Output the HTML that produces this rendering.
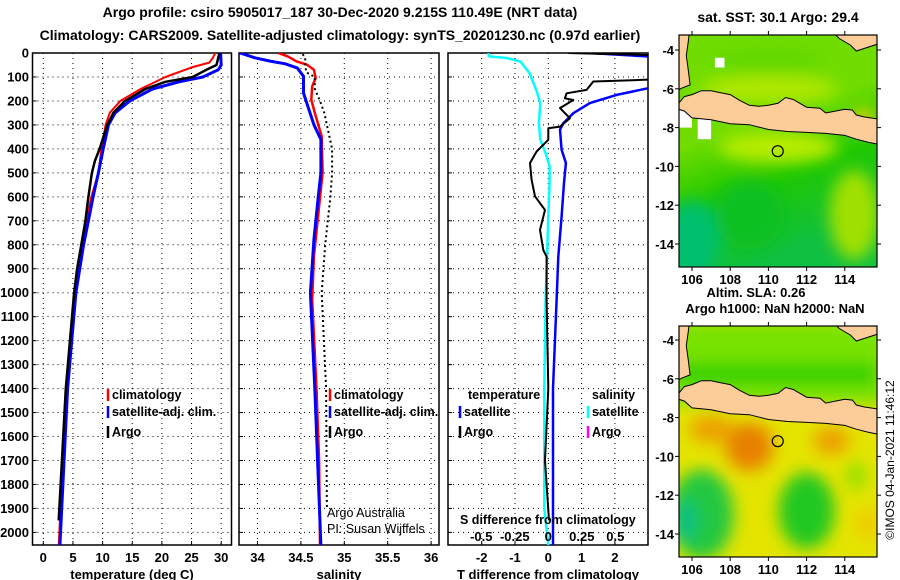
<!DOCTYPE html>
<html><head><meta charset="utf-8"><style>
html,body{margin:0;padding:0;background:#fff}
svg{display:block;font-family:"Liberation Sans",Arial,sans-serif}
.t{font-weight:bold;font-size:14px}
.tk{font-weight:bold;font-size:13px}
.lg{font-weight:bold;font-size:12.5px}
</style></head><body>
<svg id="c" width="900" height="580" viewBox="0 0 900 580" xmlns="http://www.w3.org/2000/svg">
<defs>
<clipPath id="cp1"><rect x="32.5" y="53" width="199" height="492"/></clipPath>
<clipPath id="cp2"><rect x="239" y="53" width="200" height="492"/></clipPath>
<clipPath id="cp3"><rect x="448" y="53" width="200" height="492"/></clipPath>
<clipPath id="cm1"><rect x="679" y="35" width="198" height="232"/></clipPath>
<clipPath id="cm2"><rect x="679" y="326" width="198" height="231"/></clipPath>
<filter id="bl" x="-50%" y="-50%" width="200%" height="200%"><feGaussianBlur stdDeviation="8"/></filter>
<linearGradient id="sstg" x1="0" y1="0" x2="0.3" y2="1">
<stop offset="0" stop-color="#70dc00"/><stop offset="0.45" stop-color="#70dc00"/><stop offset="0.7" stop-color="#20c800"/><stop offset="1" stop-color="#10c040"/></linearGradient>
</defs>
<text class="t" x="340" y="17" text-anchor="middle">Argo profile: csiro 5905017_187 30-Dec-2020 9.215S 110.49E (NRT data)</text>
<text class="t" x="340" y="40" text-anchor="middle">Climatology: CARS2009. Satellite-adjusted climatology: synTS_20201230.nc (0.97d earlier)</text>
<g id="p1"></g>
<g id="p2"></g>
<g id="p3"></g>
<g id="m1"></g>
<g id="m2"></g>
<text class="t" x="778" y="22" text-anchor="middle">sat. SST: 30.1 Argo: 29.4</text>
<text class="tk" x="756" y="297" text-anchor="middle">Altim. SLA: 0.26</text>
<text class="tk" x="775" y="313" text-anchor="middle">Argo h1000: NaN h2000: NaN</text>
<text x="894" y="460" font-size="12" text-anchor="middle" transform="rotate(-90 894 460)">©IMOS 04-Jan-2021 11:46:12</text>
</svg>
<script>
// ---- temperature data
const tDepthClim = [0,20,40,60,100,150,200,250,300,400,500,600,700,800,1000,1400,2055];
const tClim = [29.0,28.6,28.0,25.0,20.6,16.4,13.0,11.2,10.5,9.8,9.3,8.1,7.3,6.6,5.2,3.9,2.6];
const tDepthSat = [0,50,70,100,120,150,200,250,300,400,500,600,700,800,1000,1400,2055];
const tSat = [29.9,30.0,29.5,26.9,22.9,18.4,14.6,12.1,11.0,10.1,9.3,8.4,7.6,6.8,5.5,4.1,2.8];
const tDepthArgo = [0,50,70,100,120,150,200,250,300,400,450,500,600,700,800,900,1000,1400,1950];
const tArgo = [29.7,29.2,27.5,25.2,20.6,17.2,13.8,11.8,10.8,9.5,8.7,8.2,7.6,7.1,6.4,5.7,5.2,3.8,2.6];
// ---- salinity data
const sDepthClim = [0,14,35,49,70,104,139,195,250,348,500,640,848,1030,1400,1700,2055];
const sClim = [34.24,34.35,34.45,34.57,34.65,34.67,34.63,34.62,34.66,34.74,34.75,34.71,34.65,34.63,34.68,34.71,34.72];
const sDepthSat = [0,20,35,45,63,97,167,222,299,361,500,598,779,1001,1400,2055];
const sSat = [33.8,33.97,34.16,34.32,34.46,34.53,34.53,34.58,34.65,34.73,34.73,34.70,34.65,34.61,34.66,34.73];
const sDepthArgo = [5,20,40,80,100,150,200,250,300,400,500,600,800,1000,1400,1900];
const sArgo = [34.52,34.55,34.55,34.56,34.66,34.66,34.72,34.77,34.80,34.86,34.86,34.84,34.78,34.74,34.79,34.80];
// ---- difference data
const dDepthArgoT = [0,3,10,21,109,119,154,168,189,196,230,272,307,314,362,411,459,529,598,655,738,822,850,1030,1400,1700,1950];
const dArgoT = [0.6,1.45,3.5,4.5,3.5,1.35,1.15,0.55,0.5,0.75,0.35,0.65,0.35,0,0,-0.35,-0.55,-0.5,-0.4,-0.1,-0.25,-0.15,-0.05,-0.05,0,-0.1,0.02];
const dDepthSatT = [0,14,30,147,175,209,251,293,320,404,459,542,682,850,1030,1400,2055];
const dSatT = [1.25,2.95,4.0,3.0,2.05,1.25,0.75,0.45,0.35,0.4,0.53,0.47,0.4,0.3,0.25,0.14,0.14];
const dDepthSatS = [0,14,21,35,70,84,154,209,293,362,418,473,542,682,850,1030,1400,1900,2055];
const dSatS = [-0.45,-0.44,-0.31,-0.21,-0.16,-0.14,-0.09,-0.06,-0.07,-0.06,-0.02,0.01,0.01,0,-0.01,-0.02,-0.03,-0.03,0];
const tTicks = [0,5,10,15,20,25,30];
const sTicks = [34,34.5,35,35.5,36];
const sTickLabels = ["34","34.5","35","35.5","36"];
const dTicks = [-2,-1,0,1,2];
const sdTicks = [-0.5,-0.25,0,0.25,0.5];
const depthTicks = [0,100,200,300,400,500,600,700,800,900,1000,1100,1200,1300,1400,1500,1600,1700,1800,1900,2000];
// ---- map data
const lonTicks = [106,108,110,112,114];
const latTicks = [-4,-6,-8,-10,-12,-14];
const argoLon = 110.49, argoLat = -9.215;
const javaLon = [105.3,105.6,106,106.5,107,107.5,108,108.5,109,109.5,110,110.5,110.9,111.3,112,112.7,113,113.5,114,114.4,114.6,115,115.7,115.7,115.2,114.6,114.3,114,113,112,111,110,109,108,107,106,105.6,105.3];
const javaLat = [-6.75,-6.4,-6.3,-6.1,-6.1,-6.2,-6.3,-6.6,-6.85,-6.9,-6.85,-6.75,-6.45,-6.55,-6.95,-7.0,-7.25,-7.15,-7.05,-7.1,-7.35,-7.45,-7.55,-8.85,-8.75,-8.6,-8.5,-8.4,-8.3,-8.25,-8.2,-8.1,-7.85,-7.8,-7.6,-7.5,-7.15,-7.05];
const sumLon = [105.3,105.85,105.8,105.7,105.8,105.9,105.5,105.3];
const sumLat = [-3.2,-3.2,-3.6,-4.3,-5.0,-5.8,-5.95,-6.05];
const borLon = [113.5,115.7,115.7,114.6,114.3,113.7];
const borLat = [-3.2,-3.2,-3.7,-4.05,-3.75,-3.4];

const NS='http://www.w3.org/2000/svg';
function mk(tag, attrs, parent){const e=document.createElementNS(NS,tag);for(const k in attrs)e.setAttribute(k,attrs[k]);parent.appendChild(e);return e;}
const yD = d => 53 + d*0.2397;
const xT = t => 43.3 + t*5.93;
const xS = s => 257.5 + (s-34)*86.8;
const xDT = v => 548.3 + v*33.3;
const xDS = v => 548.3 + v*134;

function frame(g, x0, x1, ticks, xf, labels, title, isFirst){
  const grid = mk('g',{},g);
  
  
  ticks.forEach(t=>{const x=xf(t);mk('line',{x1:x,x2:x,y1:53,y2:545,stroke:'#000','stroke-width':1,'stroke-dasharray':'1,4'},grid);});
  depthTicks.forEach(d=>{const y=yD(d);mk('line',{x1:x0,x2:x1,y1:y,y2:y,stroke:'#000','stroke-width':1,'stroke-dasharray':'1,4'},grid);
    mk('line',{x1:x0,x2:x0+4,y1:y,y2:y,stroke:'#000','stroke-width':1},grid);
    if(isFirst){const tx=mk('text',{x:29,y:y+4.5,'text-anchor':'end','class':'tk'},g);tx.textContent=d;
      
      }
  });
  ticks.forEach((t,i)=>{const x=xf(t);mk('line',{x1:x,x2:x,y1:545,y2:541,stroke:'#000'},grid);
    const tx=mk('text',{x:x,y:562,'text-anchor':'middle','class':'tk'},g);tx.textContent=labels[i];
    
    });
  const b=mk('rect',{x:x0,y:53,width:x1-x0,height:492,fill:'none',stroke:'#000','stroke-width':1.5},g);
  
  
  const tt=mk('text',{x:(x0+x1)/2,y:579,'text-anchor':'middle','class':'tk'},g);tt.textContent=title;
  
  
}
function line(g, xs, ds, xf, color, w, clip, name, dash){
  const pts = xs.map((v,i)=>xf(v).toFixed(1)+','+yD(ds[i]).toFixed(1)).join(' ');
  const a={points:pts,fill:'none',stroke:color,'stroke-width':w,'clip-path':'url(#'+clip+')','stroke-linejoin':'round'};
  if(dash)a['stroke-dasharray']=dash;
  const p=mk('polyline',a,g);
  
  
}
function legend(g, x, y, color, label, name){
  const gg=mk('g',{},g);
  
  
  mk('line',{x1:x,x2:x,y1:y-10,y2:y+2,stroke:color,'stroke-width':2.5},gg);
  const t=mk('text',{x:x+4,y:y,'class':'lg'},gg);t.textContent=label;
}
function txt(g,x,y,s,cls,name,extra){const t=mk('text',Object.assign({x:x,y:y,'class':cls},extra||{}),g);t.textContent=s;
  
  return t;}

// Panel 1
const p1=document.getElementById('p1');
frame(p1,32.5,231.5,tTicks,xT,tTicks.map(String),'temperature (deg C)',true);
line(p1,tClim,tDepthClim,xT,'#ff0000',2,'cp1','temp-climatology-line');
line(p1,tSat,tDepthSat,xT,'#0000ff',3,'cp1','temp-satellite-line');
line(p1,tArgo,tDepthArgo,xT,'#000000',2.5,'cp1','temp-argo-line');
legend(p1,108,399,'#ff0000','climatology','legend-climatology');
legend(p1,108,416,'#0000ff','satellite-adj. clim.','legend-satellite');
legend(p1,108,436,'#000000','Argo','legend-argo');

// Panel 2
const p2=document.getElementById('p2');
frame(p2,239,439,sTicks,xS,sTickLabels,'salinity',false);
line(p2,sClim,sDepthClim,xS,'#ff0000',2.5,'cp2','sal-climatology-line');
line(p2,sSat,sDepthSat,xS,'#0000ff',3,'cp2','sal-satellite-line');
line(p2,sArgo,sDepthArgo,xS,'#000000',2,'cp2','sal-argo-line','2,3');
legend(p2,330,399,'#ff0000','climatology','legend-climatology');
legend(p2,330,416,'#0000ff','satellite-adj. clim.','legend-satellite');
legend(p2,330,436,'#000000','Argo','legend-argo');
txt(p2,327,517,'Argo Australia','n','credit-line-1',{'font-size':12.5});
txt(p2,327,533,'PI: Susan Wijffels','n','credit-line-2',{'font-size':12.5});

// Panel 3
const p3=document.getElementById('p3');
frame(p3,448,648,dTicks,xDT,dTicks.map(String),'T difference from climatology',false);
line(p3,dSatS,dDepthSatS,xDS,'#00ffff',2.5,'cp3','sal-diff-satellite-line');
line(p3,dSatT,dDepthSatT,xDT,'#0000ff',2.5,'cp3','temp-diff-satellite-line');
line(p3,dArgoT,dDepthArgoT,xDT,'#000000',2,'cp3','temp-diff-argo-line');
txt(p3,468,399,'temperature','lg','legend-temperature-header');
txt(p3,592,399,'salinity','lg','legend-salinity-header');
legend(p3,460,416,'#0000ff','satellite','legend-temp-satellite');
legend(p3,460,436,'#000000','Argo','legend-temp-argo');
legend(p3,588,416,'#00ffff','satellite','legend-sal-satellite');
legend(p3,588,436,'#ff00ff','Argo','legend-sal-argo');
txt(p3,460,524,'S difference from climatology','lg','s-diff-axis-title');
sdTicks.forEach(v=>{txt(p3,xDS(v),541,String(v),'tk','s-diff-tick-label',{'text-anchor':'middle'});});

// Maps
function drawMap(id, top, bot, clip, latTop, kind){
  const g=document.getElementById(id);
  const X = lon => 692 + (lon-106)*19.1;
  const Y = lat => latTop + (-4-lat)*19.4;
  const f=mk('g',{'clip-path':'url(#'+clip+')'},g);
  if(kind==='sst'){
    mk('rect',{x:679,y:top,width:198,height:bot-top,fill:'url(#sstg)'},f);
    const b=mk('g',{filter:'url(#bl)'},f);
    mk('ellipse',{cx:X(106),cy:Y(-13.8),rx:28,ry:40,fill:'#00c070'},b);
    mk('ellipse',{cx:X(109),cy:Y(-12.5),rx:35,ry:35,fill:'#10c020'},b);
    mk('ellipse',{cx:X(114.5),cy:Y(-12.5),rx:25,ry:45,fill:'#a0e000'},b);
    mk('ellipse',{cx:X(110.5),cy:Y(-9),rx:60,ry:16,fill:'#b8ec00'},b);
    mk('ellipse',{cx:X(110),cy:Y(-6),rx:70,ry:14,fill:'#b0e800'},b);
    mk('ellipse',{cx:X(115),cy:Y(-7.6),rx:12,ry:10,fill:'#f0d000'},b);
    mk('ellipse',{cx:X(110),cy:Y(-4.6),rx:55,ry:12,fill:'#60d800'},b);
    [[105.3,-7.0,0.7,1.0],[106.3,-7.5,0.7,1.1],[107.2,-4.4,0.5,0.5]].forEach(r=>{
      mk('rect',{x:X(r[0]),y:Y(r[1]),width:r[2]*19.1,height:r[3]*19.4,fill:'#fff'},f);});
  } else {
    mk('rect',{x:679,y:top,width:198,height:bot-top,fill:'#e4e400'},f);
    const b=mk('g',{filter:'url(#bl)'},f);
    mk('rect',{x:669,y:Y(-3),width:218,height:Y(-7.3)-Y(-3),fill:'#78e200'},b);
    mk('rect',{x:679,y:Y(-5.2),width:198,height:Y(-6.3)-Y(-5.2),fill:'#30d000'},b);
    mk('ellipse',{cx:X(106.5),cy:Y(-13),rx:32,ry:45,fill:'#20c840'},b);
    mk('ellipse',{cx:X(105.6),cy:Y(-13.3),rx:14,ry:20,fill:'#10c080'},b);
    mk('ellipse',{cx:X(112),cy:Y(-12.8),rx:28,ry:38,fill:'#20c820'},b);
    mk('ellipse',{cx:X(109),cy:Y(-9.5),rx:24,ry:24,fill:'#e88000'},b);
    mk('ellipse',{cx:X(107),cy:Y(-8.6),rx:22,ry:14,fill:'#eca000'},b);
    mk('ellipse',{cx:X(113.3),cy:Y(-9.2),rx:18,ry:14,fill:'#eca000'},b);
    mk('ellipse',{cx:X(115.2),cy:Y(-13.5),rx:10,ry:16,fill:'#f0c800'},b);
    mk('ellipse',{cx:X(114.6),cy:Y(-11),rx:10,ry:14,fill:'#90e000'},b);
  }
  const poly=(lo,la,name)=>{const p=mk('polygon',{points:lo.map((v,i)=>X(v).toFixed(1)+','+Y(la[i]).toFixed(1)).join(' '),fill:'#fccc99',stroke:'#000','stroke-width':1},f);
    
    };
  poly(javaLon,javaLat,'java-land');
  poly(sumLon,sumLat,'sumatra-land');
  poly(borLon,borLat,'borneo-land');
  const c=mk('circle',{cx:X(argoLon),cy:Y(argoLat),r:5.5,fill:'none',stroke:'#000','stroke-width':1.2},g);
  
  
  mk('rect',{x:679,y:top,width:198,height:bot-top,fill:'none',stroke:'#000','stroke-width':1.2},g);
  lonTicks.forEach(l=>{mk('line',{x1:X(l),x2:X(l),y1:top,y2:top-4,stroke:'#000'},g);mk('line',{x1:X(l),x2:X(l),y1:bot,y2:bot+4,stroke:'#000'},g);
    txt(g,X(l),bot+17,String(l),'tk','lon-tick-label',{'text-anchor':'middle','font-size':13});});
  latTicks.forEach(l=>{mk('line',{x1:679,x2:675,y1:Y(l),y2:Y(l),stroke:'#000'},g);mk('line',{x1:877,x2:881,y1:Y(l),y2:Y(l),stroke:'#000'},g);
    txt(g,674,Y(l)+5,String(l),'tk','lat-tick-label',{'text-anchor':'end','font-size':13});});
}
drawMap('m1',35,267,'cm1',50,'sst');
drawMap('m2',326,557,'cm2',340,'sla');
</script>
</body></html>
